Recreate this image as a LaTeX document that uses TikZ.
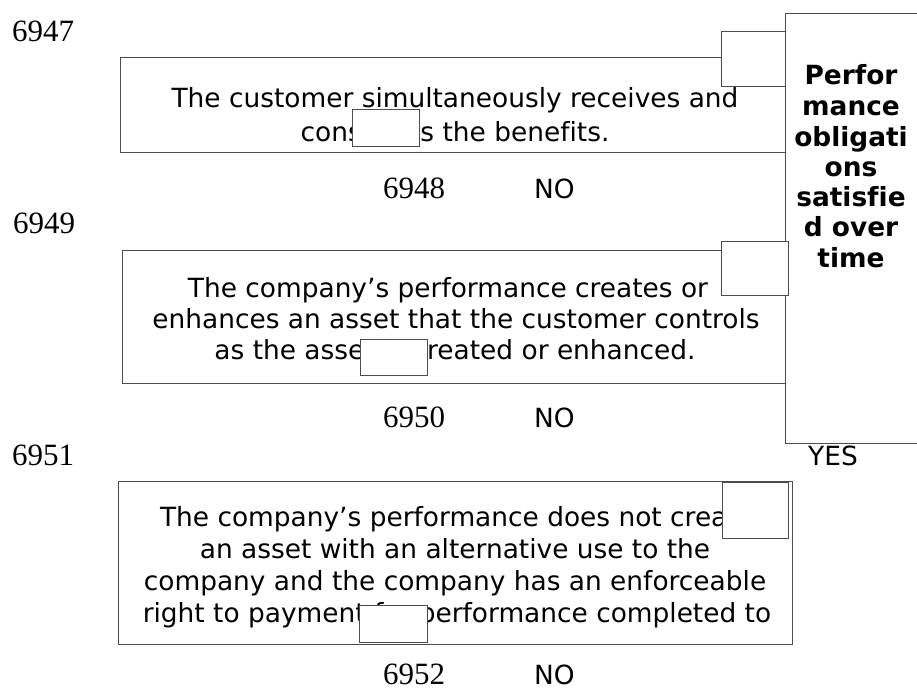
\documentclass[tikz,border=0pt]{standalone}
\usepackage{fontspec}
\setmainfont{DejaVu Sans}[Ligatures={NoCommon}]
\newfontfamily\numfont{Liberation Serif}
\tikzset{
  frame/.style={draw=black!70, line width=1.1pt, fill=white, rectangle, inner sep=0pt, anchor=north west},
  coverbox/.style={draw=black!70, line width=1pt, fill=white, rectangle, inner sep=0pt, anchor=north west},
  bodytext/.style={font=\fontsize{26.4}{30}\selectfont, anchor=base, inner sep=0pt, text=black},
  boldtext/.style={font=\fontsize{26.4}{30}\selectfont\bfseries, anchor=base, inner sep=0pt, text=black},
  numtext/.style={font=\numfont\fontsize{31}{36}\selectfont, anchor=base west, inner sep=0pt, text=black},
  answer/.style={bodytext, anchor=base west}
}
\begin{document}
\begin{tikzpicture}[x=1pt,y=-1pt]
\useasboundingbox (0,0) rectangle (917,690);
\clip (0,0) rectangle (917,690);
% decision boxes
\node[frame, minimum width=670, minimum height=95] (b1) at (120,57) {};
\node[frame, minimum width=666, minimum height=133] (b2) at (122,250) {};
\node[frame, minimum width=674, minimum height=163] (b3) at (118,481) {};
% box texts
\node[bodytext] (t1a) at (455,107) {The customer simultaneously receives and};
\node[bodytext] (t1b) at (455,141) {consumes the benefits.};
\node[bodytext] (t2a) at (448,297) {The company’s performance creates or};
\node[bodytext] (t2b) at (456,328) {enhances an asset that the customer controls};
\node[bodytext] (t2c) at (455,359) {as the asset is created or enhanced.};
\node[bodytext] (t3a) at (457,526) {The company’s performance does not create};
\node[bodytext] (t3b) at (455,558) {an asset with an alternative use to the};
\node[bodytext] (t3c) at (455,590) {company and the company has an enforceable};
\node[bodytext] (t3d) at (457,622) {right to payment for performance completed to};
% numbers and answers
\node[numtext] (n6947) at (12,42) {6947};
\node[numtext] (n6948) at (383,198) {6948};
\node[answer] (no1) at (534,198) {NO};
\node[numtext] (n6949) at (13,233) {6949};
\node[numtext] (n6950) at (383,427) {6950};
\node[answer] (no2) at (534,427) {NO};
\node[numtext] (n6951) at (12,465) {6951};
\node[answer] (yes) at (808,465) {YES};
\node[numtext, text depth=0pt] (n6952) at (383,684) {6952};
\node[answer, text depth=0pt] (no3) at (534,684) {NO};
% result box
\node[frame, minimum width=135, minimum height=430] (big) at (785,13) {};
\node[boldtext] (r1) at (851,85) {Perfor};
\node[boldtext] (r2) at (851,115) {mance};
\node[boldtext] (r3) at (851,146) {obligati};
\node[boldtext] (r4) at (851,176) {ons};
\node[boldtext] (r5) at (851,206) {satisfie};
\node[boldtext] (r6) at (851,236) {d over};
\node[boldtext] (r7) at (851,267) {time};
% small white boxes
\node[coverbox, minimum width=64, minimum height=55] (s1) at (721,31) {};
\node[coverbox, minimum width=67, minimum height=37] (s1b) at (352,109) {};
\node[coverbox, minimum width=67, minimum height=54] (s2) at (721,241) {};
\node[coverbox, minimum width=67, minimum height=36] (s2b) at (360,339) {};
\node[coverbox, minimum width=66, minimum height=56] (s3) at (722,482) {};
\node[coverbox, minimum width=68, minimum height=37] (s3b) at (359,605) {};
\end{tikzpicture}
\end{document}
